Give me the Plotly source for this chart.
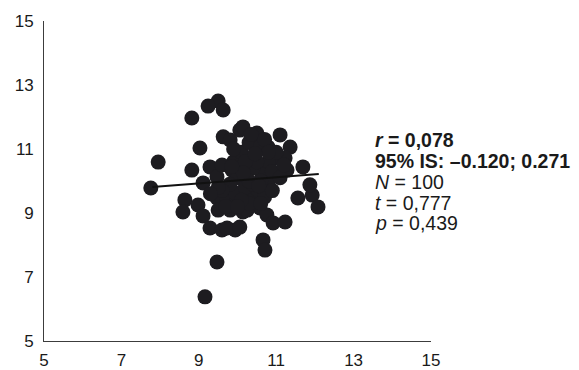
import plotly.graph_objects as go

# Paired observations (x, y)
x_vals = [
    9.50, 9.24, 9.63, 8.82, 10.06, 9.63, 9.03, 7.95, 8.82, 9.29,
    7.76, 9.11, 9.47, 9.99, 10.25, 8.64, 8.59, 8.98, 9.11, 9.47,
    9.50, 9.73, 9.81, 9.99, 10.14, 10.19, 10.45, 10.58, 10.76, 10.92,
    10.66, 10.71, 9.29, 9.60, 9.94, 9.47, 9.16, 11.23, 11.56, 11.93,
    12.08, 11.87, 11.69, 11.28, 11.36, 11.10, 10.50, 10.14, 10.79, 10.45,
    10.97, 11.23, 10.63, 10.79, 10.19, 10.53, 9.86, 9.99, 9.81, 9.94,
    9.73, 10.06, 10.25,
    9.90, 10.10, 10.30, 10.60, 10.80, 10.40, 10.00, 9.80, 10.20, 10.60,
    10.90, 11.00, 10.50, 10.70, 10.30, 9.70, 10.10, 9.60, 10.40, 10.90,
    11.10, 10.20, 9.90, 10.70, 10.30, 9.60, 9.50, 9.30, 10.00, 10.60,
    10.80, 11.20, 10.45, 10.15, 9.85, 10.55, 10.35,
]
y_vals = [
    12.50, 12.34, 12.22, 11.97, 11.59, 11.38, 11.03, 10.59, 10.34, 10.44,
    9.78, 9.94, 10.13, 10.34, 10.44, 9.41, 9.03, 9.25, 8.91, 9.47,
    9.09, 9.47, 9.09, 9.47, 9.03, 9.50, 9.63, 9.16, 8.94, 8.69,
    8.16, 7.84, 8.53, 8.47, 8.47, 7.47, 6.38, 8.72, 9.47, 9.56,
    9.19, 9.88, 10.44, 10.34, 11.06, 11.44, 11.50, 11.69, 11.06, 10.75,
    10.72, 10.72, 10.25, 9.94, 9.97, 9.72, 10.34, 10.91, 11.28, 9.63,
    8.53, 8.56, 9.09,
    10.60, 10.90, 11.20, 11.10, 10.60, 10.40, 10.10, 9.90, 9.80, 10.00,
    10.30, 10.90, 10.60, 9.50, 9.30, 9.20, 9.40, 9.70, 9.90, 9.70,
    10.10, 10.60, 11.00, 11.30, 10.00, 10.50, 9.80, 9.60, 9.20, 9.30,
    10.90, 10.50, 10.85, 10.25, 10.45, 9.85, 11.45,
]

# Least-squares trend line endpoints
trend_x = [7.8, 12.1]
trend_y = [9.81, 10.22]

tick_vals = [5, 7, 9, 11, 13, 15]

# Statistics block shown to the right of the plot
stat_lines = [
    "<b><i>r</i> = 0,078</b>",
    "<b>95% IS: \u20130.120; 0.271</b>",
    "<i>N</i> = 100",
    "<i>t</i> = 0,777",
    "<i>p</i> = 0,439",
]
stat_y = [11.28, 10.63, 9.97, 9.31, 8.69]

FONT = "Liberation Sans, Arial, sans-serif"
INK = "#1d1c20"

fig = go.Figure()
fig.add_trace(go.Scatter(
    x=x_vals, y=y_vals, mode="markers",
    marker=dict(size=15, color=INK, line=dict(width=0)),
    showlegend=False, hoverinfo="skip",
))
fig.add_trace(go.Scatter(
    x=trend_x, y=trend_y, mode="lines",
    line=dict(color="#111111", width=2),
    showlegend=False, hoverinfo="skip",
))

for txt, yy in zip(stat_lines, stat_y):
    fig.add_annotation(
        x=13.5, y=yy, xref="x", yref="y", text=txt, showarrow=False,
        xanchor="left", yanchor="middle",
        font=dict(family=FONT, size=19.5, color="#1a1a1a"),
    )

axis_common = dict(
    range=[5, 15], tickvals=tick_vals, showgrid=False, zeroline=False,
    showline=True, linecolor="#3c3c3c", linewidth=1, ticks="",
    automargin=False,
    tickfont=dict(family=FONT, size=17, color="#1a1a1a"),
)
fig.update_xaxes(**axis_common, ticklabelstandoff=4)
fig.update_yaxes(**axis_common, ticklabelstandoff=6)

fig.update_layout(
    width=579, height=370,
    margin=dict(l=44, r=148, t=21, b=29),
    plot_bgcolor="white", paper_bgcolor="white",
    font=dict(family=FONT),
)

fig.write_html("out.html")
